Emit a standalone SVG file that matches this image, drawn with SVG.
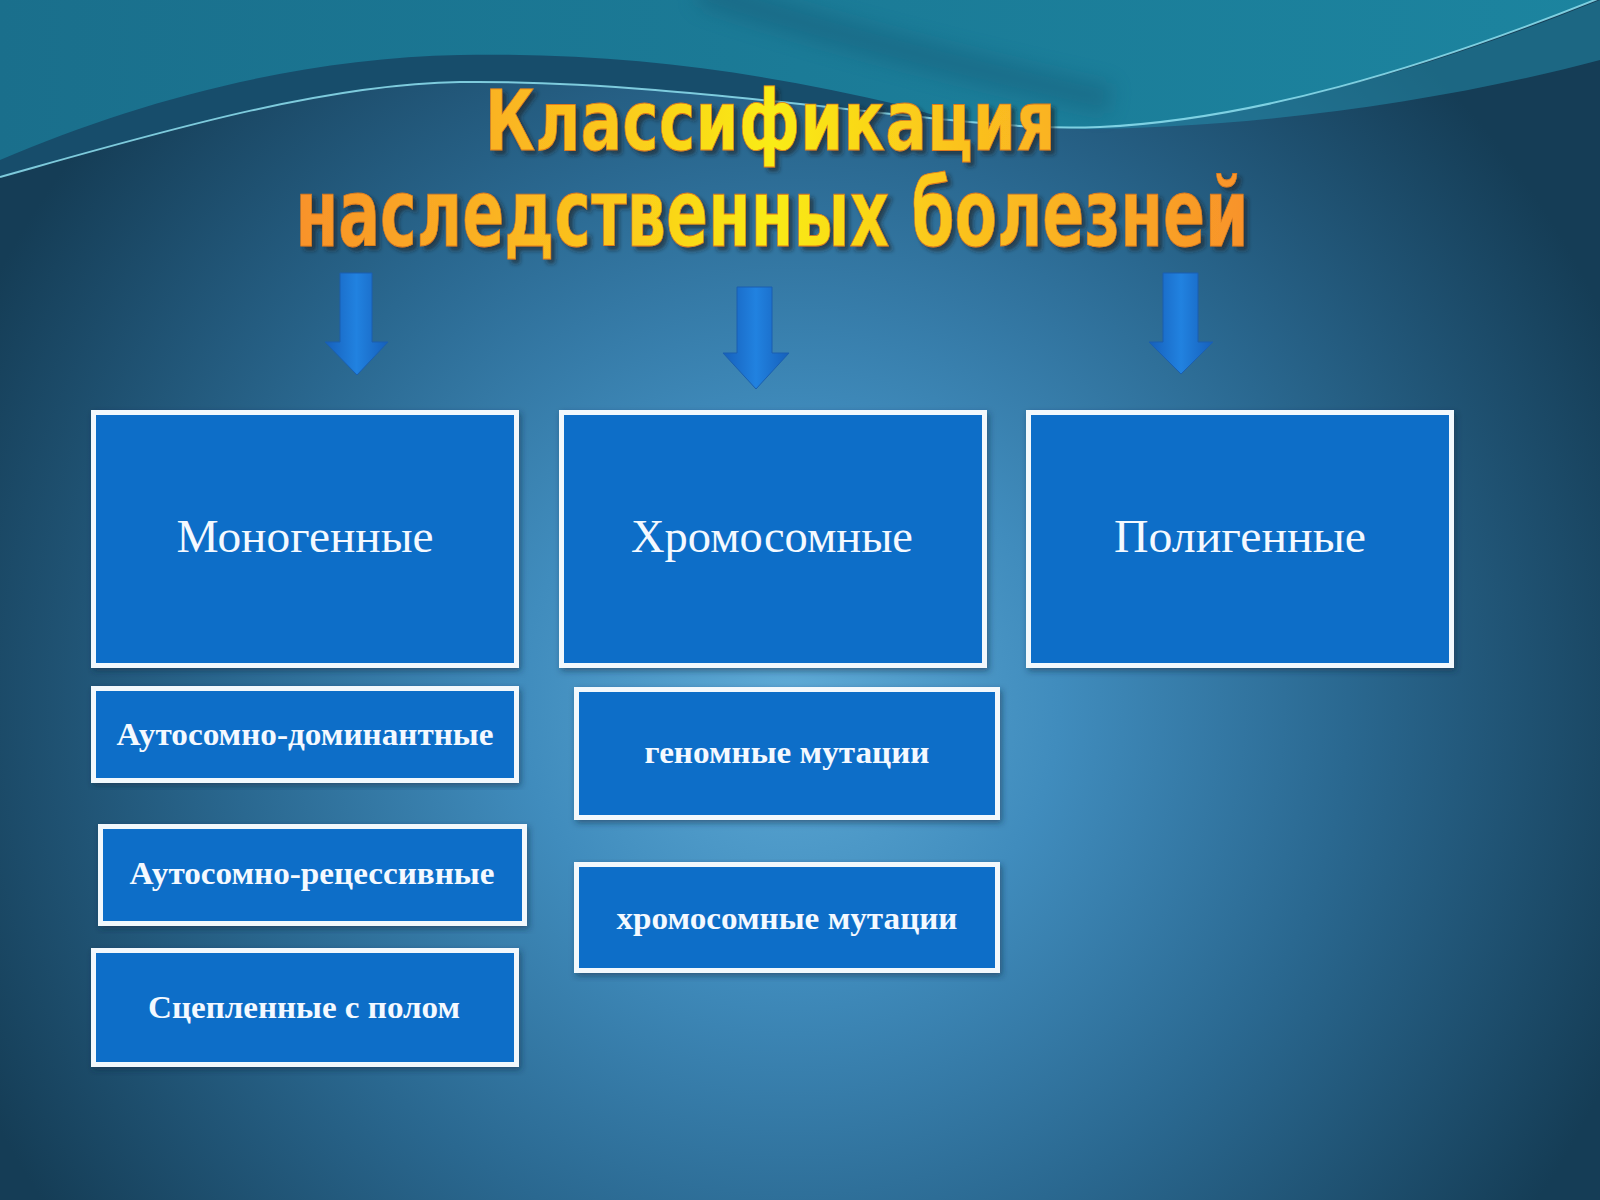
<svg xmlns="http://www.w3.org/2000/svg" width="1600" height="1200" viewBox="0 0 1600 1200">
  <defs>
    <radialGradient id="bg" cx="790" cy="700" r="900" gradientUnits="userSpaceOnUse">
      <stop offset="0" stop-color="#5eaad6"/>
      <stop offset="0.3" stop-color="#408cbd"/>
      <stop offset="0.62" stop-color="#2a6890"/>
      <stop offset="1" stop-color="#153d56"/>
    </radialGradient>
    <linearGradient id="topTeal" x1="0" y1="0" x2="1" y2="0">
      <stop offset="0" stop-color="#1a6f8c"/>
      <stop offset="0.5" stop-color="#1b7b97"/>
      <stop offset="1" stop-color="#1c849f"/>
    </linearGradient>
    <linearGradient id="titleFill" x1="0" y1="0" x2="1" y2="0">
      <stop offset="0" stop-color="#f8922a"/>
      <stop offset="0.3" stop-color="#fbc21e"/>
      <stop offset="0.5" stop-color="#f9ec12"/>
      <stop offset="0.7" stop-color="#fbc21e"/>
      <stop offset="1" stop-color="#f8922a"/>
    </linearGradient>
    <linearGradient id="arrowFill" x1="0" y1="0" x2="1" y2="0">
      <stop offset="0" stop-color="#1660bb"/>
      <stop offset="0.5" stop-color="#2182e0"/>
      <stop offset="1" stop-color="#1660bb"/>
    </linearGradient>
    <filter id="soft" x="-20%" y="-50%" width="140%" height="200%">
      <feGaussianBlur stdDeviation="10"/>
    </filter>
    <filter id="titleShadow" x="-10%" y="-40%" width="120%" height="180%">
      <feDropShadow dx="4" dy="4" stdDeviation="2" flood-color="#1e1e1e" flood-opacity="0.6"/>
    </filter>
    <filter id="boxShadow" x="-5%" y="-5%" width="110%" height="115%">
      <feDropShadow dx="2" dy="3" stdDeviation="3" flood-color="#0a2540" flood-opacity="0.5"/>
    </filter>
  </defs>
  <style>
    .box { fill: #116ec8; stroke: #f2f8fc; stroke-width: 5; filter: url(#boxShadow); }
    .big { font-family: "Liberation Serif", "DejaVu Serif", serif; font-size: 46px; fill: #f4f9ff; text-anchor: middle; }
    .small { font-family: "Liberation Serif", "DejaVu Serif", serif; font-size: 31px; font-weight: bold; fill: #f4f9ff; text-anchor: middle; }
    .title { font-family: "DejaVu Sans", "Liberation Sans", sans-serif; font-weight: bold; text-anchor: middle; fill: url(#titleFill); stroke: #e07a1c; stroke-width: 0.8; filter: url(#titleShadow); }
    .arrow { fill: url(#arrowFill); stroke: #1a5fb0; stroke-width: 1; }
  </style>

  <!-- background -->
  <rect x="0" y="0" width="1600" height="1200" fill="url(#bg)"/>
  <path d="M0,0 H1600 V-2 C1420,70 1250,120 1100,127 C1050,129 1010,126 950,120 C800,105 620,80 460,82 C320,84 150,135 0,177 Z" fill="url(#topTeal)"/>
  <path d="M700,-10 C800,25 950,65 1110,100" fill="none" stroke="#15536f" stroke-width="30" opacity="0.35" filter="url(#soft)"/>
  <path d="M0,160 C140,100 300,58 460,55 C620,52 760,72 900,105 L950,120 C800,105 620,80 460,82 C320,84 150,135 0,177 Z" fill="#174d6b"/>
  <path d="M1060,129 C1250,122 1420,72 1600,0 V60 C1450,100 1250,130 1060,129 Z" fill="#2492b0" opacity="0.5"/>
  <path d="M0,177 C150,135 320,84 460,82 C620,80 800,105 950,120 C1010,126 1050,129 1100,127 C1250,120 1420,70 1600,-2" fill="none" stroke="#8fe0f0" stroke-width="2" opacity="0.85"/>

  <!-- title -->
  <g id="title">
    <text class="title">
      <tspan x="773" y="150" font-size="84" textLength="571" lengthAdjust="spacingAndGlyphs">Классификация</tspan>
      <tspan x="772" y="246" font-size="94" textLength="953" lengthAdjust="spacingAndGlyphs">наследственных болезней</tspan>
    </text>
  </g>

  <!-- connectors (block arrows) -->
  <g id="connectors">
    <polygon class="arrow" points="340,273 372,273 372,342 388,342 357,375 325,342 340,342"/>
    <polygon class="arrow" points="737,287 772,287 772,353 789,353 756,389 723,353 737,353"/>
    <polygon class="arrow" points="1163,273 1198,273 1198,342 1213,342 1181,374 1149,342 1163,342"/>
  </g>

  <g id="node-monogenic">
    <rect class="box" x="93.5" y="412.5" width="423" height="253"/>
    <text class="big" x="305" y="552" textLength="257" lengthAdjust="spacingAndGlyphs">Моногенные</text>
  </g>
  <g id="node-chromosomal">
    <rect class="box" x="561.5" y="412.5" width="423" height="253"/>
    <text class="big" x="772" y="552" textLength="282" lengthAdjust="spacingAndGlyphs">Хромосомные</text>
  </g>
  <g id="node-polygenic">
    <rect class="box" x="1028.5" y="412.5" width="423" height="253"/>
    <text class="big" x="1240" y="552" textLength="252" lengthAdjust="spacingAndGlyphs">Полигенные</text>
  </g>
  <g id="node-autosomal-dominant">
    <rect class="box" x="93.5" y="688.5" width="423" height="92"/>
    <text class="small" x="305" y="745" textLength="377" lengthAdjust="spacingAndGlyphs">Аутосомно-доминантные</text>
  </g>
  <g id="node-autosomal-recessive">
    <rect class="box" x="100.5" y="826.5" width="424" height="97"/>
    <text class="small" x="312" y="884" textLength="365" lengthAdjust="spacingAndGlyphs">Аутосомно-рецессивные</text>
  </g>
  <g id="node-sex-linked">
    <rect class="box" x="93.5" y="950.5" width="423" height="114"/>
    <text class="small" x="304" y="1018" textLength="312" lengthAdjust="spacingAndGlyphs">Сцепленные с полом</text>
  </g>
  <g id="node-genomic">
    <rect class="box" x="576.5" y="689.5" width="421" height="128"/>
    <text class="small" x="787" y="763" textLength="285" lengthAdjust="spacingAndGlyphs">геномные мутации</text>
  </g>
  <g id="node-chromosome-mutations">
    <rect class="box" x="576.5" y="864.5" width="421" height="106"/>
    <text class="small" x="787" y="929" textLength="341" lengthAdjust="spacingAndGlyphs">хромосомные мутации</text>
  </g>
</svg>
